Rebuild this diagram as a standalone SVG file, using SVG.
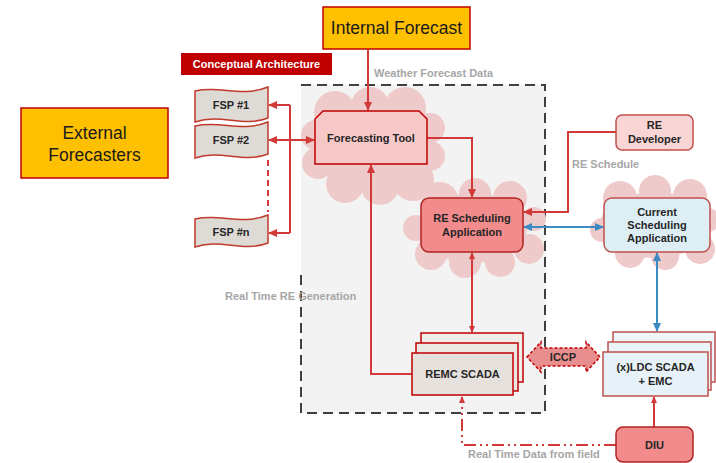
<svg xmlns="http://www.w3.org/2000/svg" width="716" height="463" viewBox="0 0 716 463">
<style>
text{font-family:"Liberation Sans",Arial,sans-serif;text-anchor:middle}
.b{font-weight:bold;font-size:11px;fill:#262626}
.g{font-weight:bold;font-size:11px;fill:#A6A6A6;text-anchor:start}
.big{font-size:17.5px;fill:#1a1a1a}
.ln{fill:none;stroke:#D23A3A;stroke-width:2}
.bl{fill:none;stroke:#3B8BC2;stroke-width:2}
.cloud{fill:#EFCACA}
.fsp{fill:#DEDBD7;stroke:#C0392B;stroke-width:1.5}
</style>
<defs>
<marker id="ar" markerUnits="userSpaceOnUse" markerWidth="10" markerHeight="10" refX="8" refY="5" orient="auto-start-reverse" viewBox="0 0 10 10"><path d="M0,1 L9,5 L0,9 Z" fill="#D23A3A"/></marker>
<marker id="ars" markerUnits="userSpaceOnUse" markerWidth="7" markerHeight="7" refX="6" refY="3.5" orient="auto-start-reverse" viewBox="0 0 7 7"><path d="M0,0.5 L7,3.5 L0,6.5 Z" fill="#D23A3A"/></marker>
<marker id="ab" markerUnits="userSpaceOnUse" markerWidth="10" markerHeight="10" refX="8" refY="5" orient="auto-start-reverse" viewBox="0 0 10 10"><path d="M0,1 L9,5 L0,9 Z" fill="#3B8BC2"/></marker>
</defs>
<rect width="716" height="463" fill="#fff"/>
<!-- boundary -->
<g id="boundary">
<rect x="301" y="85" width="244" height="328" fill="#F3F3F3"/>
<path d="M301,275 L301,413 L545,413 L545,85 L301,85" fill="none" stroke="#404040" stroke-width="2" stroke-dasharray="10,6"/>
</g>
<!-- clouds -->
<g id="clouds" class="cloud">
<circle cx="335" cy="112" r="21"/><circle cx="370" cy="106" r="19"/><circle cx="405" cy="108" r="21"/><circle cx="430" cy="128" r="15"/><circle cx="430" cy="156" r="15"/><circle cx="413" cy="180" r="21"/><circle cx="380" cy="186" r="19"/><circle cx="345" cy="184" r="19"/><circle cx="318" cy="163" r="16"/><circle cx="316" cy="135" r="15"/><ellipse cx="372" cy="145" rx="55" ry="45"/>
<circle cx="440" cy="200" r="18"/><circle cx="475" cy="194" r="16"/><circle cx="510" cy="198" r="17"/><circle cx="534" cy="219" r="12"/><circle cx="529" cy="249" r="15"/><circle cx="500" cy="262" r="15"/><circle cx="465" cy="262" r="16"/><circle cx="431" cy="254" r="16"/><circle cx="416" cy="228" r="13"/><ellipse cx="472" cy="228" rx="55" ry="35"/>
<circle cx="620" cy="198" r="17"/><circle cx="655" cy="191" r="16"/><circle cx="690" cy="196" r="17"/><circle cx="708" cy="220" r="12"/><circle cx="700" cy="249" r="15"/><circle cx="665" cy="256" r="14"/><circle cx="630" cy="253" r="15"/><circle cx="602" cy="230" r="12"/><ellipse cx="655" cy="225" rx="55" ry="33"/>
</g>
<!-- connectors -->
<g id="connectors">
<path class="ln" d="M368,50 L368,110" marker-end="url(#ar)"/>
<path class="ln" d="M290,105 L290,233"/>
<path class="ln" d="M290,105 L269,105" marker-end="url(#ar)"/>
<path class="ln" d="M290,233 L269,233" marker-end="url(#ar)"/>
<path class="ln" d="M269,140 L314,140" marker-start="url(#ar)" marker-end="url(#ar)"/>
<path class="ln" d="M268,160 L268,212" stroke-dasharray="6,4"/>
<path class="ln" d="M427,138 L472,138 L472,197" marker-end="url(#ar)"/>
<path class="ln" d="M412,374 L371,374 L371,165" marker-end="url(#ar)"/>
<path class="ln" d="M472,253 L472,332" stroke-width="1.2" marker-start="url(#ars)" marker-end="url(#ars)"/>
<path class="ln" d="M616,132 L568,132 L568,212 L524,212" marker-end="url(#ar)"/>
<path class="bl" d="M524,227 L603,227" marker-start="url(#ab)" marker-end="url(#ab)"/>
<path class="bl" d="M657,253 L657,331" stroke-width="3" marker-start="url(#ab)" marker-end="url(#ab)"/>
<path class="ln" d="M654,427 L654,397" marker-end="url(#ars)"/>
<path class="ln" d="M616,445 L462,445 L462,397" stroke-dasharray="12,4,2,4,2,4" marker-end="url(#ars)"/>
<g id="iccp">
<path d="M527,357 L541,342 L541,348 L586,348 L586,342 L600,357 L586,372 L586,366 L541,366 L541,372 Z" fill="#E88E8E" stroke="#C00000" stroke-width="1.5" stroke-dasharray="3,2"/>
<text class="b" x="563" y="361">ICCP</text>
</g>
</g>
<!-- labels -->
<g id="labels">
<text class="g" x="374" y="77">Weather Forecast Data</text>
<text class="g" x="572" y="168">RE Schedule</text>
<text class="g" x="225" y="300">Real Time RE Generation</text>
<text class="g" x="468" y="458">Real Time Data from field</text>
</g>
<g id="external-forecasters">
<rect x="21" y="108" width="147" height="70" fill="#FFC000" stroke="#C00000" stroke-width="1.5"/>
<text class="big" x="94.5" y="139">External</text>
<text class="big" x="94.5" y="161">Forecasters</text>
</g>
<g id="internal-forecast">
<rect x="323" y="7" width="147" height="42" fill="#FFC000" stroke="#C00000" stroke-width="1.5"/>
<text class="big" x="396.5" y="34">Internal Forecast</text>
</g>
<g id="conceptual-architecture">
<rect x="181" y="53" width="151" height="22" fill="#C00000"/>
<text x="256.5" y="68" style="font-weight:bold;font-size:11px;fill:#fff">Conceptual Architecture</text>
</g>
<g id="fsp1">
<path class="fsp" d="M195,91 C222,85 240,98 268,87 L268,118 C242,128 222,113 195,122 Z"/>
<text class="b" x="231" y="109">FSP #1</text>
</g>
<g id="fsp2">
<path class="fsp" d="M195,126 C222,120 240,133 268,122 L268,154 C242,164 222,149 195,158 Z"/>
<text class="b" x="231" y="144">FSP #2</text>
</g>
<g id="fspn">
<path class="fsp" d="M195,219 C222,213 240,226 268,215 L268,243 C242,253 222,238 195,247 Z"/>
<text class="b" x="231" y="236">FSP #n</text>
</g>
<g id="forecasting-tool">
<path d="M323,111 L419,111 L427,119 L427,164 L315,164 L315,119 Z" fill="#F6C8C8" stroke="#C00000" stroke-width="1.5"/>
<text class="b" x="371" y="142">Forecasting Tool</text>
</g>
<g id="re-scheduling">
<rect x="421" y="198" width="102" height="54" rx="8" fill="#F28B8B" stroke="#B22222" stroke-width="1.5"/>
<text class="b" x="472" y="222">RE Scheduling</text>
<text class="b" x="472" y="236">Application</text>
</g>
<g id="re-developer">
<rect x="616" y="115" width="77" height="35" rx="6" fill="#F9D5D5" stroke="#C0504D" stroke-width="1.5"/>
<text class="b" x="654.5" y="129">RE</text>
<text class="b" x="654.5" y="143">Developer</text>
</g>
<g id="current-scheduling">
<rect x="604" y="198" width="106" height="54" rx="8" fill="#DDEFF5" stroke="#C0504D" stroke-width="1.5"/>
<text class="b" x="657" y="216">Current</text>
<text class="b" x="657" y="229">Scheduling</text>
<text class="b" x="657" y="242">Application</text>
</g>
<g id="remc-scada">
<rect x="421" y="333" width="102" height="49" fill="#F0EDEA" stroke="#C00000" stroke-width="1.5"/>
<rect x="416" y="343" width="102" height="48" fill="#ECE8E4" stroke="#C00000" stroke-width="1.5"/>
<rect x="412" y="353" width="101" height="42" fill="#E6E1DC" stroke="#C00000" stroke-width="1.5"/>
<text class="b" x="462.5" y="378">REMC SCADA</text>
</g>
<g id="ldc-scada">
<rect x="613" y="332" width="102" height="50" fill="#EEF6FA" stroke="#C0504D" stroke-width="1.5"/>
<rect x="608" y="342" width="103" height="48" fill="#EAF4F8" stroke="#C0504D" stroke-width="1.5"/>
<rect x="603" y="352" width="105" height="44" fill="#E6F2F7" stroke="#C0504D" stroke-width="1.5"/>
<text class="b" x="655.5" y="371">(x)LDC SCADA</text>
<text class="b" x="655.5" y="385">+ EMC</text>
</g>
<g id="diu">
<rect x="616" y="427" width="77" height="35" rx="7" fill="#F28B8B" stroke="#B22222" stroke-width="1.5"/>
<text class="b" x="654.5" y="449">DIU</text>
</g>
</svg>
